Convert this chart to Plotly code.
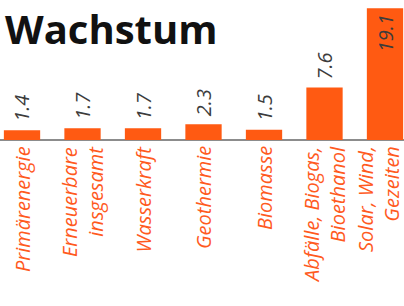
import plotly.graph_objects as go

categories = ["Primärenergie", "Erneuerbare<br>insgesamt", "Wasserkraft", "Geothermie",
              "Biomasse", "Abfälle, Biogas,<br>Bioethanol", "Solar, Wind,<br>Gezeiten"]
values = [1.4, 1.7, 1.7, 2.3, 1.5, 7.6, 19.1]
value_labels = ["1.4", "1.7", "1.7", "2.3", "1.5", "7.6", "19.1"]
title_text = "Wachstum"

ORANGE = "#ff5a12"
LABEL_ORANGE = "#ff5a1e"
GREY_TEXT = "#3c3c3c"
FONT = "Open Sans"

x = list(range(len(categories)))

fig = go.Figure()
fig.add_trace(go.Bar(
    x=x, y=values, marker=dict(color=ORANGE, line=dict(width=0)),
    width=0.6, hoverinfo="skip",
))

annotations = []
for i, (v, t) in enumerate(zip(values, value_labels)):
    inside = v == max(values)
    annotations.append(dict(
        x=i, y=v, xref="x", yref="y", text=t, showarrow=False, textangle=-90,
        yanchor="top" if inside else "bottom", yshift=-4 if inside else 6,
        font=dict(family=FONT, size=20, color=GREY_TEXT, style="italic"),
    ))
n = len(categories)
for i, c in enumerate(categories):
    annotations.append(dict(
        x=i, y=0, xref="x", yref="y", text=c, showarrow=False, textangle=-90,
        yanchor="top", yshift=-5, align="right", borderpad=0,
        xshift=-7 if i == n - 1 else 0,
        font=dict(family=FONT, size=20, color=LABEL_ORANGE, style="italic"),
    ))
annotations.append(dict(
    x=0, y=1, xref="paper", yref="paper", text="<b>" + title_text + "</b>",
    showarrow=False, xanchor="left", yanchor="top", xshift=4, yshift=0,
    borderpad=0,
    font=dict(family=FONT, size=40, color="#111111"),
))

fig.update_layout(
    width=404, height=306,
    margin=dict(l=0, r=0, t=0, b=166),
    paper_bgcolor="white", plot_bgcolor="white",
    showlegend=False,
    bargap=0.4,
    xaxis=dict(range=[-0.364, 6.314], showticklabels=False, showgrid=False,
               zeroline=False, showline=False, ticks=""),
    yaxis=dict(range=[0, 20.3], showticklabels=False, showgrid=False,
               zeroline=True, zerolinecolor="#8c8c8c", zerolinewidth=1.5,
               showline=False, ticks=""),
    annotations=annotations,
)
fig.update_traces(cliponaxis=False)

fig.write_html("out.html", config={"displayModeBar": False},
               post_script="document.body.style.margin='0';document.body.style.overflow='hidden';")
